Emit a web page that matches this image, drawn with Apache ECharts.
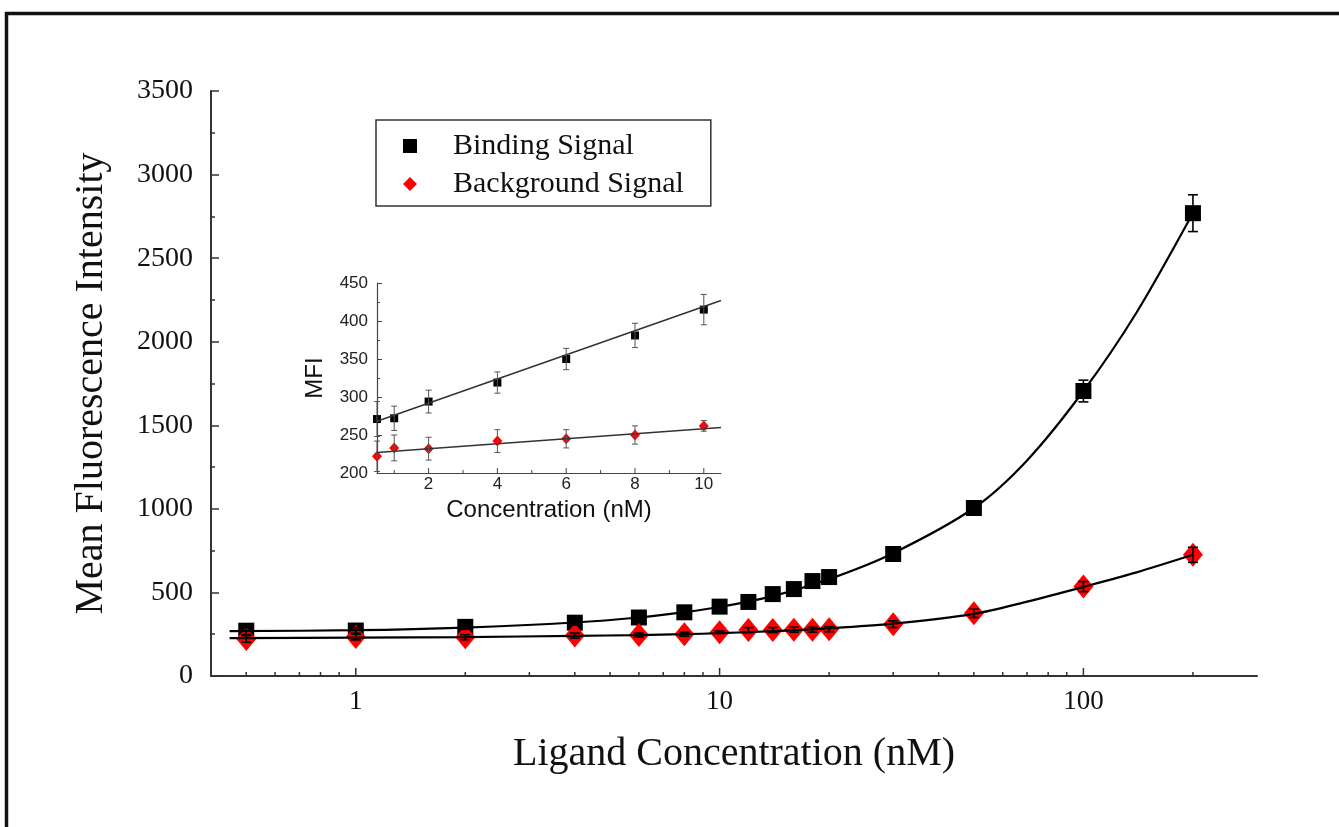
<!DOCTYPE html>
<html>
<head>
<meta charset="utf-8">
<script src="https://cdn.jsdelivr.net/npm/echarts@6/dist/echarts.min.js"></script>
<style>
html,body{margin:0;padding:0;background:#fff;}
#chart{width:1339px;height:827px;}
</style>
</head>
<body>
<div id="chart"></div>
<script>
// ---- Data ----
var concentrations = [0.5, 1, 2, 4, 6, 8, 10, 12, 14, 16, 18, 20, 30, 50, 100, 200];
var bindingSignal   = [271, 272, 294, 319, 350, 381, 415, 443, 490, 520, 568, 592, 730, 1005, 1705, 2769];
var bindingError    = [23, 16, 15, 14, 14, 16, 20, 15, 15, 15, 15, 15, 20, 40, 65, 110];
var backgroundSignal = [222, 233, 232, 242, 245, 250, 262, 275, 275, 277, 277, 280, 310, 375, 535, 725];
var backgroundError  = [20, 17, 15, 15, 12, 12, 7, 15, 15, 15, 15, 15, 20, 25, 30, 45];

// fitted curves
var bindingFitX = [0.45, 1, 2, 4, 6, 8, 10, 14, 20, 30, 50, 70, 100, 140, 200];
var bindingFitY = [268, 274, 290, 320, 350, 382, 413, 478, 580, 735, 1005, 1290, 1705, 2175, 2770];
var backgroundFitX = [0.45, 1, 2, 4, 6, 8, 10, 14, 20, 30, 50, 70, 100, 140, 200];
var backgroundFitY = [227, 230, 233, 240, 245, 250, 256, 268, 285, 313, 372, 445, 533, 620, 725];

// inset linear fits (endpoints)
var insetBindingFitX = [0.5, 10.5];
var insetBindingFitY = [268, 427];
var insetBackgroundFitX = [0.5, 10.5];
var insetBackgroundFitY = [227, 260];

var mainXLabels = [1, 10, 100];
var mainXMinorTicks = [0.5, 0.6, 0.7, 0.8, 0.9, 2, 3, 4, 5, 6, 7, 8, 9, 20, 30, 40, 50, 60, 70, 80, 90, 200];
var insetXLabels = [2, 4, 6, 8, 10];
var insetXMinorTicks = [1, 3, 5, 7, 9];

// ---- Build series data ----
function zip(xs, ys) { return xs.map(function (x, i) { return [x, ys[i]]; }); }
function errData(xs, ys, es, maxX) {
  var out = [];
  xs.forEach(function (x, i) { if (maxX == null || x <= maxX) out.push([x, ys[i] - es[i], ys[i] + es[i]]); });
  return out;
}
function pts(xs, ys, maxX) {
  var out = [];
  xs.forEach(function (x, i) { if (maxX == null || x <= maxX) out.push([x, ys[i]]); });
  return out;
}
function tickData(vals, base) { return vals.map(function (v) { return [v, base]; }); }
function errorRender(color, cap, lw) {
  return function (params, api) {
    var x = api.value(0);
    var lo = api.coord([x, api.value(1)]);
    var hi = api.coord([x, api.value(2)]);
    var style = { stroke: color, lineWidth: lw };
    return {
      type: 'group',
      children: [
        { type: 'line', shape: { x1: lo[0], y1: lo[1], x2: hi[0], y2: hi[1] }, style: style },
        { type: 'line', shape: { x1: lo[0] - cap, y1: lo[1], x2: lo[0] + cap, y2: lo[1] }, style: style },
        { type: 'line', shape: { x1: hi[0] - cap, y1: hi[1], x2: hi[0] + cap, y2: hi[1] }, style: style }
      ]
    };
  };
}
// inward (upward) x-axis ticks placed through the axis scale
function tickRender(len, color, lw) {
  return function (params, api) {
    var p = api.coord([api.value(0), api.value(1)]);
    return { type: 'line', shape: { x1: p[0], y1: p[1], x2: p[0], y2: p[1] - len }, style: { stroke: color, lineWidth: lw } };
  };
}

var serif = 'Liberation Serif';
var sans = 'Liberation Sans';
var plain = function (v) { return String(v); };

var option = {
  backgroundColor: '#ffffff',
  animation: false,
  graphic: [{
    type: 'rect', left: 4, top: 11, shape: { width: 1400, height: 900 },
    style: { fill: 'none', stroke: '#111', lineWidth: 3.5 }, silent: true, z: 100
  }],
  legend: {
    left: 376, top: 120, orient: 'vertical',
    data: [{ name: 'Binding Signal', icon: 'rect' }, { name: 'Background Signal', icon: 'diamond' }],
    itemWidth: 14, itemHeight: 14, itemGap: 8,
    borderColor: '#333', borderWidth: 1.5, borderRadius: 0,
    padding: [11, 27, 7, 27],
    textStyle: { fontFamily: serif, fontSize: 30, color: '#111', padding: [0, 0, 0, 31] }
  },
  grid: [
    { left: 211, top: 91, right: 82, bottom: 151, containLabel: false },
    { left: 377, top: 283, width: 344, height: 190, containLabel: false }
  ],
  xAxis: [
    {
      gridIndex: 0, type: 'log', logBase: 10, min: 0.4, max: 300, position: 'bottom',
      name: 'Ligand Concentration (nM)', nameLocation: 'middle', nameGap: 58,
      nameTextStyle: { fontFamily: serif, fontSize: 40, color: '#111' },
      axisLine: { lineStyle: { color: '#333', width: 2 } },
      axisTick: { show: false },
      axisLabel: { customValues: mainXLabels, formatter: plain, fontFamily: serif, fontSize: 27, color: '#111', margin: 12 },
      splitLine: { show: false }, minorTick: { show: false }, minorSplitLine: { show: false }
    },
    {
      gridIndex: 1, type: 'value', min: 0.5, max: 10.5, position: 'bottom',
      name: 'Concentration (nM)', nameLocation: 'middle', nameGap: 25,
      nameTextStyle: { fontFamily: sans, fontSize: 24, color: '#111' },
      axisLine: { lineStyle: { color: '#444', width: 1.2 } },
      axisTick: { show: false },
      axisLabel: { customValues: insetXLabels, fontFamily: sans, fontSize: 17, color: '#222', margin: 3 },
      splitLine: { show: false }
    }
  ],
  yAxis: [
    {
      gridIndex: 0, type: 'value', min: 0, max: 3500, interval: 500,
      name: 'Mean Fluorescence Intensity', nameLocation: 'middle', nameGap: 100, nameRotate: 90,
      nameTextStyle: { fontFamily: serif, fontSize: 40, color: '#111' },
      axisLine: { show: true, lineStyle: { color: '#333', width: 2 } },
      axisTick: { show: true, inside: true, length: 8, lineStyle: { color: '#333', width: 1.5 } },
      minorTick: { show: true, splitNumber: 2, length: 4, lineStyle: { color: '#333', width: 1.5 } },
      axisLabel: { formatter: plain, fontFamily: serif, fontSize: 28, color: '#111', margin: 18 },
      splitLine: { show: false }
    },
    {
      gridIndex: 1, type: 'value', min: 200, max: 450, interval: 50,
      name: 'MFI', nameLocation: 'middle', nameGap: 50, nameRotate: 90,
      nameTextStyle: { fontFamily: sans, fontSize: 24, color: '#111' },
      axisLine: { show: true, lineStyle: { color: '#444', width: 1.2 } },
      axisTick: { show: true, inside: true, length: 5, lineStyle: { color: '#444' } },
      minorTick: { show: true, splitNumber: 2, length: 3, lineStyle: { color: '#444' } },
      axisLabel: { formatter: plain, fontFamily: sans, fontSize: 17, color: '#222', margin: 9 },
      splitLine: { show: false }
    }
  ],
  series: [
    // x-axis ticks (inward)
    { name: 'mainMajorTicks', type: 'custom', xAxisIndex: 0, yAxisIndex: 0, renderItem: tickRender(8, '#333', 1.5),
      data: tickData(mainXLabels, 0), clip: false, silent: true, z: 6 },
    { name: 'mainMinorTicks', type: 'custom', xAxisIndex: 0, yAxisIndex: 0, renderItem: tickRender(4, '#333', 1.5),
      data: tickData(mainXMinorTicks, 0), clip: false, silent: true, z: 6 },
    { name: 'insetMajorTicks', type: 'custom', xAxisIndex: 1, yAxisIndex: 1, renderItem: tickRender(5, '#444', 1),
      data: tickData(insetXLabels, 200), clip: false, silent: true, z: 6 },
    { name: 'insetMinorTicks', type: 'custom', xAxisIndex: 1, yAxisIndex: 1, renderItem: tickRender(3, '#444', 1),
      data: tickData(insetXMinorTicks, 200), clip: false, silent: true, z: 6 },
    // main markers
    { name: 'Binding Signal', type: 'scatter', xAxisIndex: 0, yAxisIndex: 0, symbol: 'rect', symbolSize: 16,
      itemStyle: { color: '#000', opacity: 1 }, data: zip(concentrations, bindingSignal), z: 3 },
    { name: 'Background Signal', type: 'scatter', xAxisIndex: 0, yAxisIndex: 0, symbol: 'diamond', symbolSize: [20, 24],
      itemStyle: { color: '#ff0000', opacity: 1 }, data: zip(concentrations, backgroundSignal), z: 3 },
    // main fits
    { name: 'bindingFit', type: 'line', xAxisIndex: 0, yAxisIndex: 0, smooth: 0.3, showSymbol: false, symbol: 'none',
      lineStyle: { color: '#000', width: 2.2 }, data: zip(bindingFitX, bindingFitY), z: 4, silent: true },
    { name: 'backgroundFit', type: 'line', xAxisIndex: 0, yAxisIndex: 0, smooth: 0.3, showSymbol: false, symbol: 'none',
      lineStyle: { color: '#000', width: 2.2 }, data: zip(backgroundFitX, backgroundFitY), z: 4, silent: true },
    // main error bars
    { name: 'bindingErr', type: 'custom', xAxisIndex: 0, yAxisIndex: 0, renderItem: errorRender('#000', 5, 1.6),
      data: errData(concentrations, bindingSignal, bindingError), z: 5, silent: true },
    { name: 'backgroundErr', type: 'custom', xAxisIndex: 0, yAxisIndex: 0, renderItem: errorRender('#000', 5, 1.6),
      data: errData(concentrations, backgroundSignal, backgroundError), z: 5, silent: true },
    // inset markers
    { name: 'insetBinding', type: 'scatter', xAxisIndex: 1, yAxisIndex: 1, symbol: 'rect', symbolSize: 8,
      itemStyle: { color: '#000', opacity: 1 }, data: pts(concentrations, bindingSignal, 10), z: 3 },
    { name: 'insetBackground', type: 'scatter', xAxisIndex: 1, yAxisIndex: 1, symbol: 'diamond', symbolSize: [10, 11],
      itemStyle: { color: '#ff0000', opacity: 1 }, data: pts(concentrations, backgroundSignal, 10), z: 3 },
    // inset fits
    { name: 'insetBindingFit', type: 'line', xAxisIndex: 1, yAxisIndex: 1, showSymbol: false, symbol: 'none',
      lineStyle: { color: '#333', width: 1.5 }, data: zip(insetBindingFitX, insetBindingFitY), z: 4, silent: true },
    { name: 'insetBackgroundFit', type: 'line', xAxisIndex: 1, yAxisIndex: 1, showSymbol: false, symbol: 'none',
      lineStyle: { color: '#333', width: 1.5 }, data: zip(insetBackgroundFitX, insetBackgroundFitY), z: 4, silent: true },
    // inset error bars
    { name: 'insetBindingErr', type: 'custom', xAxisIndex: 1, yAxisIndex: 1, renderItem: errorRender('#555', 3, 1),
      data: errData(concentrations, bindingSignal, bindingError, 10), z: 5, silent: true },
    { name: 'insetBackgroundErr', type: 'custom', xAxisIndex: 1, yAxisIndex: 1, renderItem: errorRender('#555', 3, 1),
      data: errData(concentrations, backgroundSignal, backgroundError, 10), z: 5, silent: true }
  ]
};

var chart = echarts.init(document.getElementById('chart'), null, { renderer: 'canvas' });
chart.setOption(option);
</script>
</body>
</html>
